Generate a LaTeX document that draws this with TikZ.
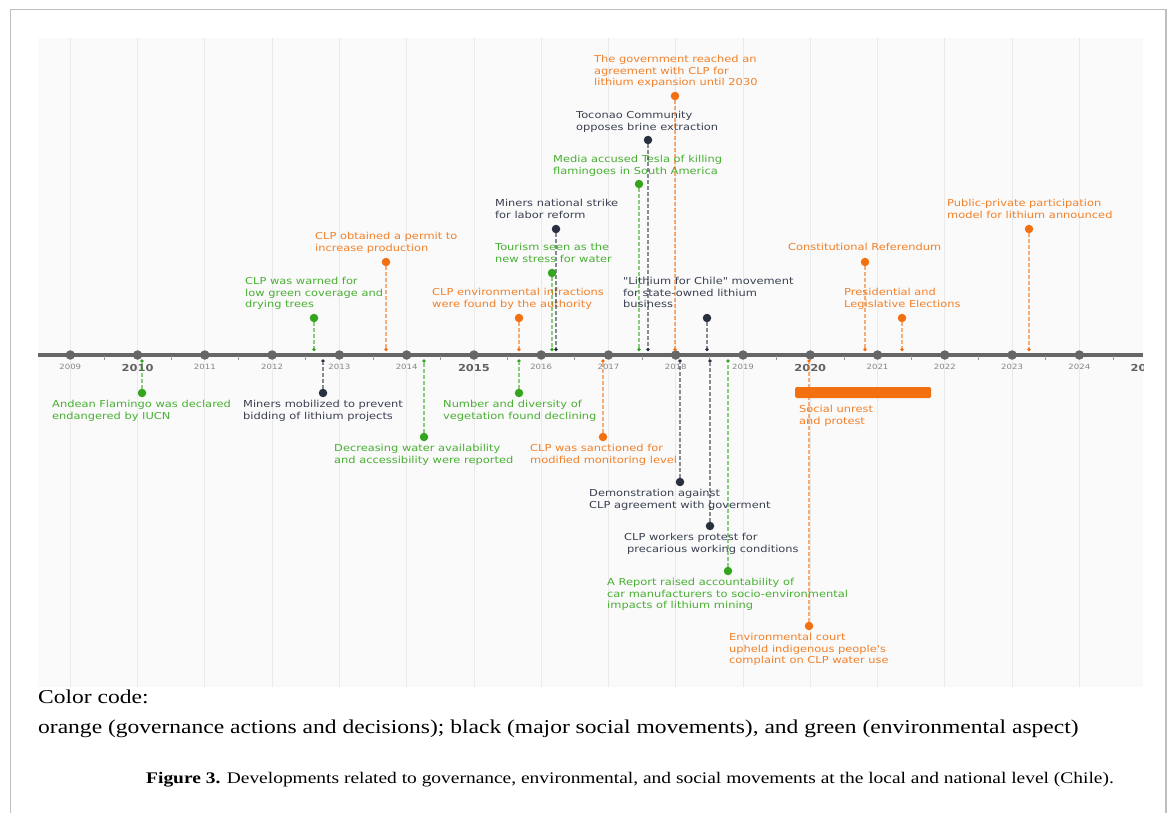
\documentclass[tikz,border=0pt]{standalone}
\usepackage{fontspec}
\newfontfamily\plotfont[FakeStretch=1.19]{DejaVu Sans}
\newfontfamily\capfont[FakeStretch=1.2]{Liberation Serif}
\definecolor{org}{RGB}{243,112,16}
\definecolor{orgT}{RGB}{242,128,40}
\definecolor{grn}{RGB}{52,165,30}
\definecolor{grnT}{RGB}{72,175,50}
\definecolor{blk}{RGB}{40,48,64}
\definecolor{blkT}{RGB}{58,64,80}
\definecolor{framec}{RGB}{190,190,190}
\definecolor{plotbg}{RGB}{250,250,250}
\definecolor{gridc}{RGB}{234,234,234}
\definecolor{axisc}{RGB}{102,102,102}
\newcommand\evt[8]{%
  \node[evdot, fill=#2] (#1d) at (#3,#4) {};
  \node[evmk, fill=#2] (#1m) at (#3,#5) {};
  \draw[conn, draw=#2] (#1d) -- (#1m);
  \node[lab, text=#2T] (#1t) at (#6,#7) {#8};
}
\begin{document}
\begin{tikzpicture}[x=1pt,y=-1pt,
  evdot/.style={circle, inner sep=0pt, minimum size=8.5pt},
  evmk/.style={circle, inner sep=0pt, minimum size=3.6pt},
  conn/.style={line width=1.1pt, dash pattern=on 3.5pt off 2.5pt, draw opacity=0.55},
  lab/.style={font=\plotfont\fontsize{9.6}{11.5}\selectfont, align=left, anchor=north west, inner sep=0pt},
  yeardot/.style={circle, fill=axisc, inner sep=0pt, minimum size=9.5pt},
  yrlab/.style={font=\plotfont\fontsize{7.2}{8}\selectfont, text=black!48, inner sep=0pt},
  yrbold/.style={font=\plotfont\bfseries\fontsize{9.6}{11}\selectfont, text=black!62, inner sep=0pt},
  capt/.style={font=\capfont\fontsize{19.6}{23}\selectfont, inner sep=0pt}
]
\useasboundingbox (0,0) rectangle (1173,813);
\fill[white] (0,0) rectangle (1173,813);
\draw[framec, line width=1.5pt] (10.5,813) -- (10.5,9.5) -- (1166,9.5) -- (1166,813);
\fill[plotbg] (38,38) rectangle (1143,687);
\foreach \yr in {2009,...,2024} {
  \pgfmathsetmacro\xx{70.3+67.27*(\yr-2009)}
  \draw[gridc, line width=0.8pt] (\xx,38) -- (\xx,687);
}
% axis
\coordinate (axL) at (38,355);
\coordinate (axR) at (1143,355);
\draw[axisc, line width=4.5pt] (axL) -- (axR);
\foreach \yr in {2009,...,2024} {
  \pgfmathsetmacro\xx{70.3+67.27*(\yr-2009)+33.6}
  \draw[black!40, line width=0.7pt] (\xx,356) -- (\xx,360);
}
\foreach \yr in {2009,...,2024} {
  \pgfmathsetmacro\xx{70.3+67.27*(\yr-2009)}
  \node[yeardot] (y\yr) at (\xx,355) {};
}
\foreach \yr in {2009,2011,2012,2013,2014,2016,2017,2018,2019,2021,2022,2023,2024} {
  \pgfmathsetmacro\xx{70.3+67.27*(\yr-2009)}
  \node[yrlab] (l\yr) at (\xx,367) {\yr};
}
\begin{scope}
\clip (38,38) rectangle (1143,687);
\foreach \yr in {2010,2015,2020,2025} {
  \pgfmathsetmacro\xx{70.3+67.27*(\yr-2009)}
  \node[yrbold] (l\yr) at (\xx,368) {\yr};
}
\end{scope}
% events above the axis
\evt{a1}{grn}{314}{318}{349.5}{245}{277.5}{CLP was warned for\\low green coverage and\\drying trees}
\evt{a2}{org}{386}{262}{349.5}{315}{232.5}{CLP obtained a permit to\\increase production}
\evt{a3}{org}{519}{318}{349.5}{432}{288.5}{CLP environmental infractions\\were found by the authority}
\evt{a4}{blk}{556}{229}{349.5}{495}{199.5}{Miners national strike\\for labor reform}
\evt{a5}{grn}{552}{273}{349.5}{495}{243.5}{Tourism seen as the\\new stress for water}
\evt{a6}{grn}{639}{184}{349.5}{553}{155.5}{Media accused Tesla of killing\\flamingoes in South America}
\evt{a7}{blk}{648}{140}{349.5}{576}{111.5}{Toconao Community\\opposes brine extraction}
\evt{a8}{org}{675}{96}{349.5}{594}{55.5}{The government reached an\\agreement with CLP for\\lithium expansion until 2030}
\evt{a9}{blk}{707}{318}{349.5}{623}{277.5}{"Lithium for Chile" movement\\for state-owned lithium\\business}
\evt{a10}{org}{865}{262}{349.5}{788}{243.5}{Constitutional Referendum}
\evt{a11}{org}{902}{318}{349.5}{844}{288.5}{Presidential and\\Legislative Elections}
\evt{a12}{org}{1029}{229}{349.5}{947}{199.5}{Public-private participation\\model for lithium announced}
% events below the axis
\evt{b1}{grn}{142}{393}{361}{52}{400.5}{Andean Flamingo was declared\\endangered by IUCN}
\evt{b2}{blk}{323}{393}{361}{243}{400.5}{Miners mobilized to prevent\\bidding of lithium projects}
\evt{b3}{grn}{424}{437}{361}{334}{444.5}{Decreasing water availability\\and accessibility were reported}
\evt{b4}{grn}{519}{393}{361}{443}{400.5}{Number and diversity of\\vegetation found declining}
\evt{b5}{org}{603}{437}{361}{530}{444.5}{CLP was sanctioned for\\modified monitoring level}
\evt{b6}{blk}{680}{482}{361}{589}{489.5}{Demonstration against\\CLP agreement with goverment}
\evt{b7}{blk}{710}{526}{361}{624}{533.5}{CLP workers protest for\\\hspace{3pt}precarious working conditions}
\evt{b8}{grn}{728}{571}{361}{607}{578.5}{A Report raised accountability of\\car manufacturers to socio-environmental\\impacts of lithium mining}
\evt{b10}{org}{809}{626}{361}{729}{633.5}{Environmental court\\upheld indigenous people's\\complaint on CLP water use}
\node[fill=org, rounded corners=1.5pt, minimum width=136pt, minimum height=11pt, inner sep=0pt] (bar) at (863,392.5) {};
\node[lab, text=orgT] (bart) at (799,405.5) {Social unrest\\and protest};
% caption
\node[capt, anchor=west] (cc) at (38,697) {Color code:};
\node[capt, anchor=west] (cl) at (38,729) {orange (governance actions and decisions); black (major social movements), and green (environmental aspect)};
\node[capt, font=\capfont\fontsize{16.2}{19}\selectfont] (fig) at (630,780) {\textbf{Figure 3.} Developments related to governance, environmental, and social movements at the local and national level (Chile).};
\end{tikzpicture}
\end{document}
